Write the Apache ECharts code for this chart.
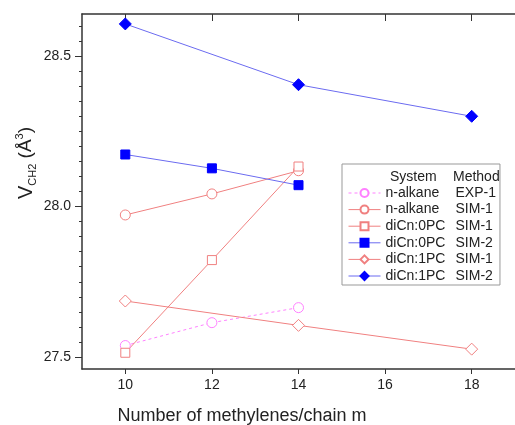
<!DOCTYPE html>
<html>
<head>
<meta charset="utf-8">
<script src="https://cdn.jsdelivr.net/npm/echarts@6/dist/echarts.min.js"></script>
<style>
  html, body { margin: 0; padding: 0; background: #fff; }
  #chart { width: 515px; height: 425px; }
</style>
</head>
<body>
<div id="chart"></div>
<script>
// data
var xTicks = [10, 12, 14, 16, 18];
var yTicks = [27.5, 28.0, 28.5];

var alkaneExpX = [10, 12, 14];
var alkaneExpY = [27.538, 27.614, 27.664];

var alkaneSimX = [10, 12, 14];
var alkaneSimY = [27.972, 28.042, 28.119];

var di0Sim1X = [10, 12, 14];
var di0Sim1Y = [27.514, 27.822, 28.133];

var di0Sim2X = [10, 12, 14];
var di0Sim2Y = [28.173, 28.127, 28.071];

var di1Sim1X = [10, 14, 18];
var di1Sim1Y = [27.686, 27.605, 27.526];

var di1Sim2X = [10, 14, 18];
var di1Sim2Y = [28.607, 28.405, 28.300];

var yMinor = [];
for (var t = 27.5; t <= 28.61; t += 0.05) {
    yMinor.push(Math.round(t * 100) / 100);
}

function pairs(xs, ys) {
    return xs.map(function (x, i) { return [x, ys[i]]; });
}

var RED = '#F08080';
var BLUE_LINE = '#6b6bf0';
var BLUE = '#0000FF';
var PINK = '#FF80FF';
var TXT = '#222';

function mk(name, xs, ys, symbol, size, lineColor, fill, border, dash) {
    return {
        name: name,
        type: 'line',
        data: pairs(xs, ys),
        symbol: symbol,
        symbolSize: size,
        showAllSymbol: true,
        lineStyle: { color: lineColor, width: 1, type: dash || 'solid' },
        itemStyle: { color: fill, borderColor: border, borderWidth: 1 },
        emphasis: { disabled: true },
        animation: false
    };
}

var chart = echarts.init(document.getElementById('chart'));

chart.setOption({
    animation: false,
    grid: { left: 82, top: 14, right: -7, bottom: 56 },
    xAxis: [{
        type: 'value', position: 'bottom', min: 9, max: 19,
        axisLine: { lineStyle: { color: '#333', width: 1.5 } },
        axisTick: { customValues: xTicks, length: 5, lineStyle: { color: '#333' } },
        axisLabel: { customValues: xTicks, margin: 9, fontSize: 14, color: TXT, fontFamily: 'Liberation Sans' },
        splitLine: { show: false }
    }, {
        type: 'value', position: 'top', min: 9, max: 19,
        axisLine: { lineStyle: { color: '#333', width: 1.5 } },
        axisTick: { customValues: xTicks, inside: true, length: 7, lineStyle: { color: '#333' } },
        axisLabel: { show: false },
        splitLine: { show: false }
    }],
    yAxis: [{
        type: 'value', position: 'left', min: 27.46, max: 28.64,
        axisLine: { show: true, lineStyle: { color: '#333', width: 1.5 } },
        axisTick: { customValues: yTicks, length: 7, lineStyle: { color: '#333' } },
        axisLabel: {
            customValues: yTicks, margin: 11, fontSize: 14, color: TXT, fontFamily: 'Liberation Sans',
            formatter: function (v) { return v.toFixed(1); }
        },
        splitLine: { show: false }
    }, {
        type: 'value', position: 'left', min: 27.46, max: 28.64,
        axisLine: { show: false },
        axisTick: { customValues: yMinor, length: 3, lineStyle: { color: '#333' } },
        axisLabel: { show: false },
        splitLine: { show: false }
    }],
    legend: {
        orient: 'vertical',
        left: 342, top: 164,
        padding: [22, 4, 2, 6],
        itemWidth: 32, itemHeight: 10, itemGap: 2.6,
        borderColor: '#999', borderWidth: 1,
        backgroundColor: '#fff',
        selectedMode: false,
        lineStyle: { width: 1 },
        formatter: function (name) {
            var p = name.split('|');
            return '{s|' + p[0] + '}{m|' + p[1] + '}';
        },
        textStyle: {
            fontSize: 14, color: TXT, fontFamily: 'Liberation Sans',
            rich: {
                s: { width: 70, fontSize: 14, color: TXT, fontFamily: 'Liberation Sans' },
                m: { fontSize: 14, color: TXT, fontFamily: 'Liberation Sans' }
            }
        },
        data: ['n-alkane|EXP-1', 'n-alkane|SIM-1', 'diCn:0PC|SIM-1', 'diCn:0PC|SIM-2', 'diCn:1PC|SIM-1', 'diCn:1PC|SIM-2']
    },
    graphic: [{
        type: 'text', left: 390, top: 170, z: 100,
        style: { text: 'System', fontSize: 14, fill: TXT, fontFamily: 'Liberation Sans' }
    }, {
        type: 'text', left: 453, top: 170, z: 100,
        style: { text: 'Method', fontSize: 14, fill: TXT, fontFamily: 'Liberation Sans' }
    }, {
        type: 'text', x: 242, y: 416,
        style: {
            text: 'Number of methylenes/chain m', fontSize: 18, fill: TXT, fontFamily: 'Liberation Sans',
            align: 'center', verticalAlign: 'middle'
        }
    }, {
        type: 'text', x: 26, y: 163, rotation: Math.PI / 2,
        style: {
            text: '{v|V}{sub|CH2}{n| (Å}{sup|3}{n|)}',
            align: 'center', verticalAlign: 'middle', fill: TXT,
            rich: {
                v: { fontSize: 20, lineHeight: 24, fontFamily: 'Liberation Sans', fill: TXT },
                n: { fontSize: 19, lineHeight: 24, fontFamily: 'Liberation Sans', fill: TXT },
                sub: { fontSize: 11, lineHeight: 24, verticalAlign: 'bottom', fontFamily: 'Liberation Sans', fill: TXT },
                sup: { fontSize: 11, lineHeight: 24, verticalAlign: 'top', fontFamily: 'Liberation Sans', fill: TXT }
            }
        }
    }],
    series: [
        mk('n-alkane|EXP-1', alkaneExpX, alkaneExpY, 'circle', 10, PINK, '#fff', PINK, [3, 3]),
        mk('n-alkane|SIM-1', alkaneSimX, alkaneSimY, 'circle', 10, RED, '#fff', RED),
        mk('diCn:0PC|SIM-1', di0Sim1X, di0Sim1Y, 'rect', 9, RED, '#fff', RED),
        mk('diCn:0PC|SIM-2', di0Sim2X, di0Sim2Y, 'rect', 9, BLUE_LINE, BLUE, BLUE),
        mk('diCn:1PC|SIM-1', di1Sim1X, di1Sim1Y, 'diamond', 12, RED, '#fff', RED),
        mk('diCn:1PC|SIM-2', di1Sim2X, di1Sim2Y, 'diamond', 12, BLUE_LINE, BLUE, BLUE)
    ]
});
</script>
</body>
</html>
